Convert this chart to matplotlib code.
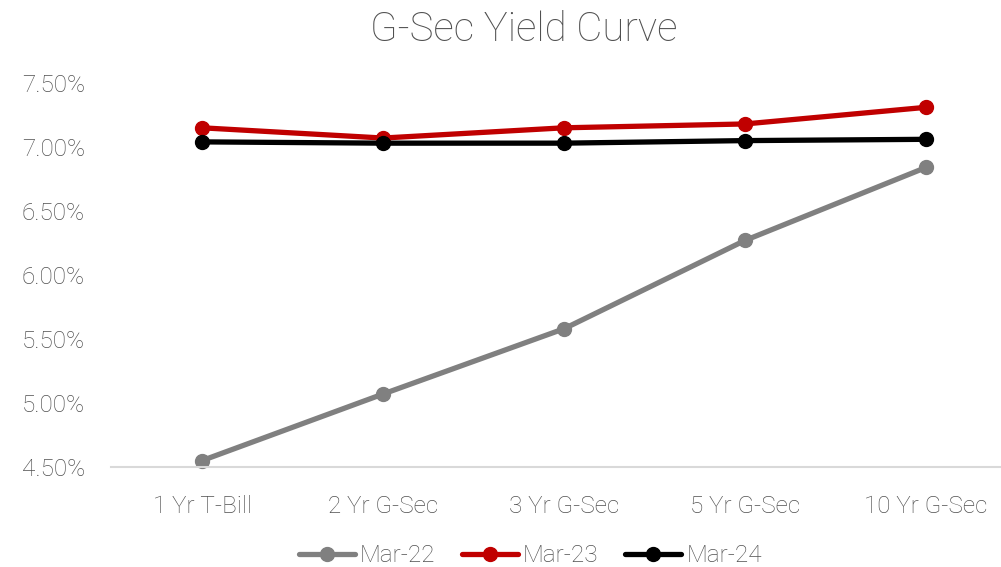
import matplotlib.pyplot as plt
import numpy as np
from matplotlib.ticker import FuncFormatter

tenors = ["1 Yr T-Bill", "2 Yr G-Sec", "3 Yr G-Sec", "5 Yr G-Sec", "10 Yr G-Sec"]
mar22 = [4.55, 5.07, 5.58, 6.27, 6.84]
mar23 = [7.15, 7.07, 7.15, 7.18, 7.31]
mar24 = [7.04, 7.03, 7.03, 7.05, 7.06]

TEXT = "#505050"
plt.rcParams["font.family"] = ["Roboto", "DejaVu Sans"]

fig = plt.figure(figsize=(10.01, 5.67), dpi=100)
ax = fig.add_axes([111.5 / 1001, 1 - 467 / 567, 905 / 1001, 384 / 567])

x = np.arange(len(tenors))
series = [("Mar-22", mar22, "#808080"), ("Mar-23", mar23, "#C00000"), ("Mar-24", mar24, "#000000")]
for label, vals, color in series:
    ax.plot(x, vals, color=color, lw=3.8, marker="o", ms=10, label=label,
            clip_on=False, solid_capstyle="round")

ax.set_xlim(-0.5, 4.5)
ax.set_ylim(4.5, 7.5)
ax.set_yticks(np.arange(4.5, 7.51, 0.5))
ax.yaxis.set_major_formatter(FuncFormatter(lambda v, _: f"{v:.2f}%"))
ax.set_xticks(x, tenors)

for side in ["top", "right", "left"]:
    ax.spines[side].set_visible(False)
ax.spines["bottom"].set_color("#d9d9d9")
ax.spines["bottom"].set_linewidth(1.5)
ax.tick_params(length=0, labelsize=17.5, labelcolor=TEXT)
ax.tick_params(axis="y", pad=19)
ax.tick_params(axis="x", pad=20)
for t in ax.get_xticklabels() + ax.get_yticklabels():
    t.set_fontweight("light")

fig.text(0.523, 0.948, "G-Sec Yield Curve", ha="center", va="center",
         fontsize=29, color=TEXT, fontweight="light")

fig.legend(loc="center", bbox_to_anchor=(0.53, 0.02), ncol=3, frameon=False,
           labelcolor=TEXT, handlelength=2.3, handletextpad=0.2,
           columnspacing=1.1, prop={"weight": "light", "size": 17.5})

fig.savefig("out.png", dpi=100)
